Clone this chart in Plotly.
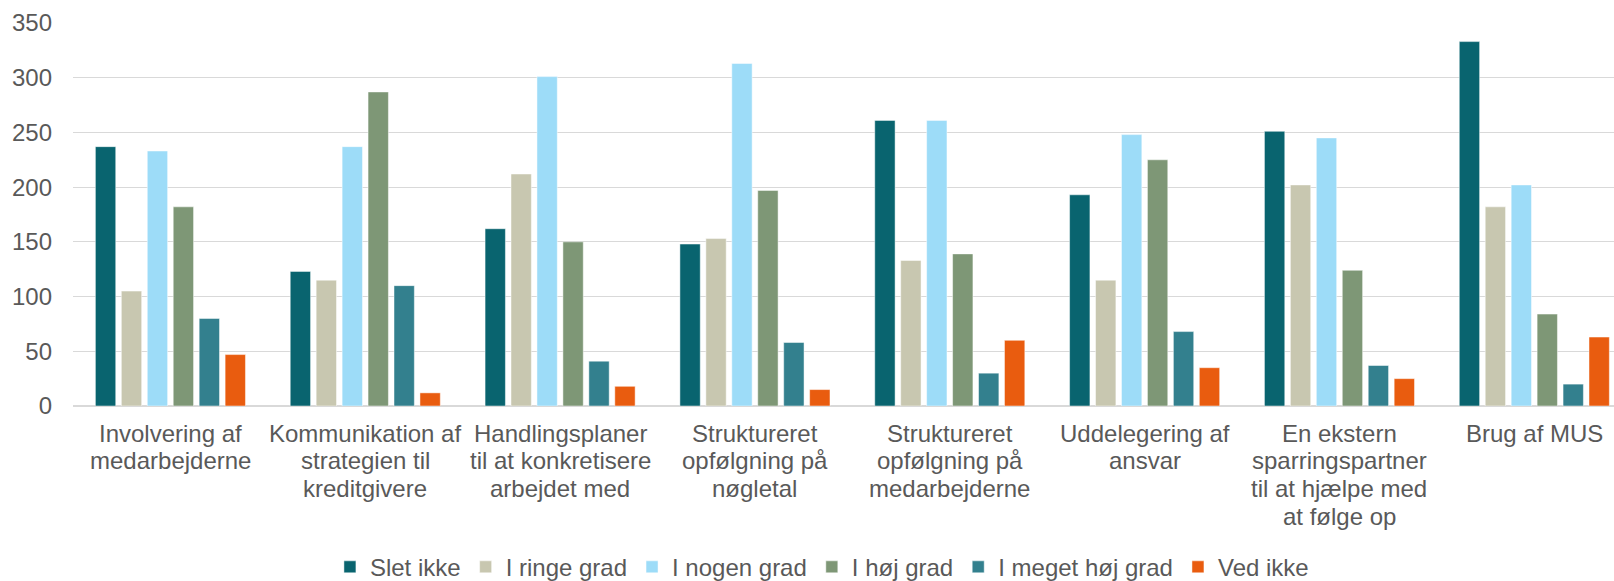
import plotly.graph_objects as go

categories = [
    "Involvering af<br>medarbejderne",
    "Kommunikation af<br>strategien til<br>kreditgivere",
    "Handlingsplaner<br>til at konkretisere<br>arbejdet med",
    "Struktureret<br>opfølgning på<br>nøgletal",
    "Struktureret<br>opfølgning på<br>medarbejderne",
    "Uddelegering af<br>ansvar",
    "En ekstern<br>sparringspartner<br>til at hjælpe med<br>at følge op",
    "Brug af MUS",
]

series_names = ["Slet ikke", "I ringe grad", "I nogen grad", "I høj grad", "I meget høj grad", "Ved ikke"]

slet_ikke = [237, 123, 162, 148, 261, 193, 251, 333]
i_ringe_grad = [105, 115, 212, 153, 133, 115, 202, 182]
i_nogen_grad = [233, 237, 301, 313, 261, 248, 245, 202]
i_hoej_grad = [182, 287, 150, 197, 139, 225, 124, 84]
i_meget_hoej_grad = [80, 110, 41, 58, 30, 68, 37, 20]
ved_ikke = [47, 12, 18, 15, 60, 35, 25, 63]

series_values = [slet_ikke, i_ringe_grad, i_nogen_grad, i_hoej_grad, i_meget_hoej_grad, ved_ikke]
colors = ["#09646F", "#C8C7B0", "#9DDCF8", "#7E9776", "#33808E", "#E95C0F"]

y_ticks = [0, 50, 100, 150, 200, 250, 300, 350]

FONT = "Liberation Sans, Arial, sans-serif"
TXT = "#595959"

fig = go.Figure()
for name, vals, col in zip(series_names, series_values, colors):
    fig.add_trace(go.Bar(
        name=name, x=categories, y=vals,
        marker=dict(color=col, line=dict(color="rgba(255,255,255,0.6)", width=0.8)),
    ))

# category labels: one annotation per text line, anchored to the category axis
LINE_H = 27.7
for cat in categories:
    for i, line in enumerate(cat.split("<br>")):
        fig.add_annotation(
            x=cat, xref="x", y=0, yref="y", text=line, showarrow=False,
            xanchor="center", yanchor="middle", yshift=-(27 + i * LINE_H),
            font=dict(family=FONT, size=24, color=TXT),
        )

fig.update_layout(
    width=1614, height=581,
    barmode="group", bargap=0.201, bargroupgap=0.216,
    plot_bgcolor="white", paper_bgcolor="white",
    margin=dict(l=73, r=0, t=23, b=175, autoexpand=False),
    font=dict(family=FONT, size=24, color=TXT),
    showlegend=True,
    legend=dict(
        orientation="h", xref="paper", yref="paper",
        x=0.486, xanchor="center", y=-0.421, yanchor="middle",
        font=dict(size=24, color=TXT), itemwidth=30,
    ),
)
fig.update_xaxes(
    type="category", range=[-0.5, 7.409], automargin=False,
    showgrid=False, showline=False, zeroline=False, ticks="",
    showticklabels=False,
)
fig.update_yaxes(
    range=[0, 350], tickvals=y_ticks, ticktext=[str(v) for v in y_ticks],
    automargin=False,
    showgrid=True, gridcolor="#D9D9D9", gridwidth=1.4,
    zeroline=True, zerolinecolor="#D9D9D9", zerolinewidth=1.6,
    showline=False, ticks="", tickfont=dict(size=24, color=TXT),
    ticklabelstandoff=20,
)

fig.write_html(
    "out.html",
    config={"displayModeBar": False},
    post_script="document.body.style.margin='0px';document.body.style.overflow='hidden';",
)
